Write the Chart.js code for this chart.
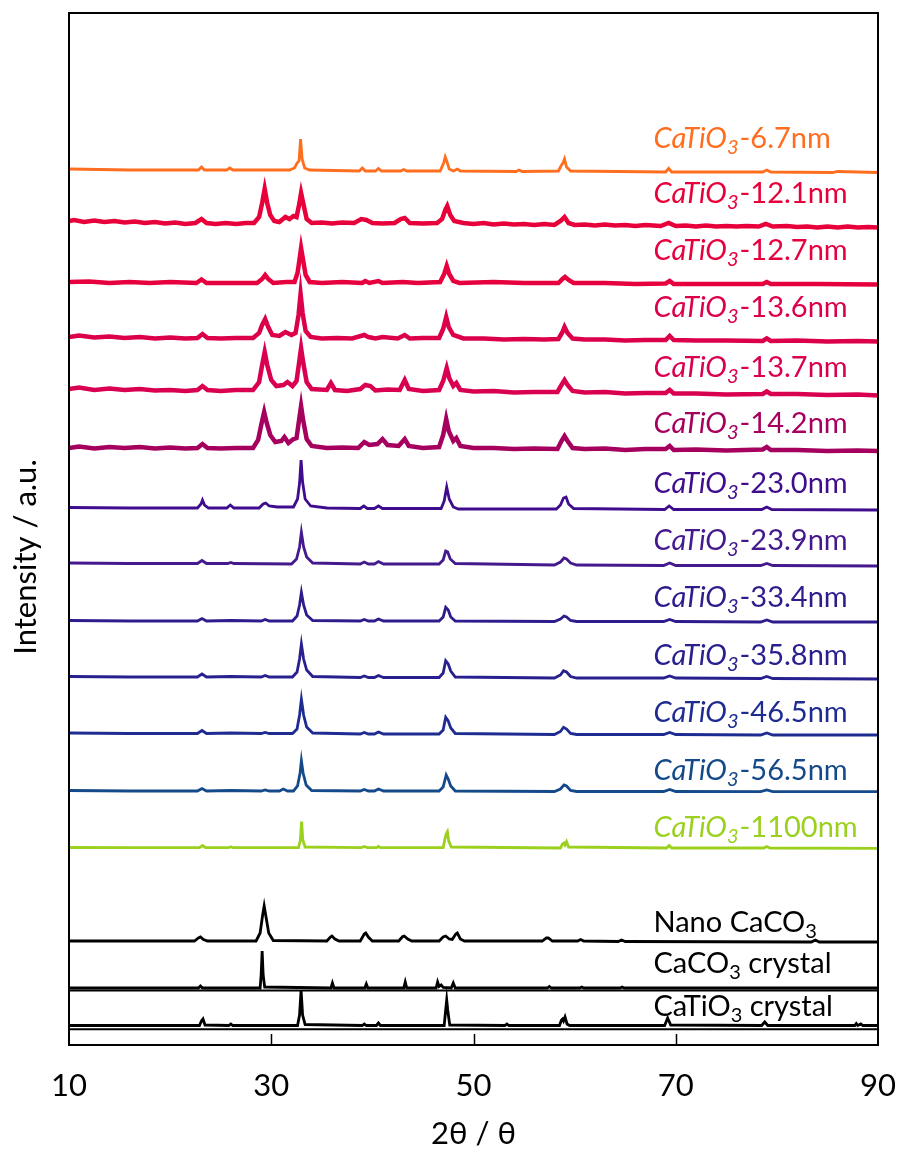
<!DOCTYPE html>
<html>
<head>
<meta charset="utf-8">
<script src="https://cdn.jsdelivr.net/npm/chart.js@4.4.0/dist/chart.umd.min.js"></script>
<style>
  html, body { margin: 0; padding: 0; background: #fff; }
  #xrd { display: block; }
</style>
</head>
<body>
<canvas id="xrd" width="901" height="1155"></canvas>
<script>
// 2-theta range and axis ticks
const angleMin = 10;
const angleMax = 90;
const angleTicks = [10, 30, 50, 70, 90];
const innerTicks = [30, 50, 70];

// sample names (top to bottom), colours and label heights (a.u.)
const sizeLabels = ["6.7", "12.1", "12.7", "13.6", "13.7", "14.2", "23.0", "23.9", "33.4", "35.8", "46.5", "56.5", "1100"];
const sizeColors = ["#ff6d1f", "#e8003a", "#e6003e", "#dc004c", "#d90052", "#a6005f", "#3e0c8c", "#45198e", "#2e1c8c", "#28208f", "#1e2c92", "#154a8a", "#9bd11e"];
const labelLevels = [897, 842, 785, 728, 668, 612, 552, 495, 438, 380, 323, 265, 208];
const refLabels = ["Nano CaCO", "CaCO", "CaTiO"];
const refTails = ["", " crystal", " crystal"];
const refLevels = [113, 72, 29];
const labelAngle = 67.8;

// traces: [2theta, intensity (offset, a.u.)]
const trace6_7 = [[10,876],[13,875.5],[16,875],[20,875],[22.8,875],[23.1,878],[23.4,875],[25.6,875],[25.9,877],[26.2,875],[31.8,875],[32.3,877],[32.55,882],[32.75,884],[32.9,906],[33.05,886],[33.3,877],[33.8,875],[38.7,874],[39.0,877],[39.3,874],[40.3,874],[40.6,876.5],[40.9,874],[42.8,874],[43.1,875.5],[43.4,874],[46.7,874],[47.05,882],[47.2,888],[47.35,884],[47.6,876],[48.0,874],[48.4,876],[48.7,874],[54.2,873.5],[54.5,875],[54.8,873.5],[58.4,874],[58.7,880],[58.85,882],[59.0,886],[59.2,878],[59.6,874],[69.0,873],[69.3,876.5],[69.6,873],[78.6,873],[79.0,875],[79.4,873],[85.5,872.5],[86,873.5],[90,872.5]];
const trace12_1 = [[10,824],[10.5,825],[11.5,823],[12.5,824.5],[13.5,823],[14.5,824],[15.5,822.5],[16.5,823.5],[17.5,822],[18.5,823],[19.5,821.5],[20.5,822.5],[21.5,821],[22.5,822],[23.1,826],[23.6,822],[24.5,821],[25.5,822],[26.5,821],[27.5,822],[28.3,822],[28.8,828],[29.1,842],[29.35,856],[29.6,842],[29.9,830],[30.3,824],[30.8,823],[31.4,828],[31.8,826],[32.2,829],[32.5,828],[32.75,840],[32.95,852],[33.2,840],[33.5,826],[34.0,822],[35,822.5],[36,821.5],[37,822.5],[38.2,822],[38.9,826],[39.4,825],[40,822],[41,821.5],[42.2,822],[42.8,826],[43.2,827],[43.7,822],[45,821.5],[46.4,822],[46.9,826],[47.2,835],[47.4,839],[47.7,830],[48.1,824],[49,822],[50,821],[51,822],[52,820.5],[53,821.5],[54,820.5],[55,821],[56,820],[57,821],[58,820],[58.6,824],[59.0,828],[59.4,822],[60,820],[61,820.5],[62,819.5],[63,820.5],[64,819.5],[65,820],[66,819],[67,820],[68.5,819],[69.3,822],[70,819],[71,819.5],[72,818.5],[73,819.5],[74,818.5],[75,819],[76,818.5],[77,819],[78.2,818.5],[78.9,821],[79.6,818.5],[81,819],[82,818],[83,818.5],[84,817.5],[85,818.5],[86,817.5],[87,818.5],[88,817.5],[89,818],[90,817.5]];
const trace12_7 = [[10,763],[12,763.5],[14,762],[16,763],[18,762],[20,763],[22.6,762],[23.1,765.5],[23.6,762],[26,762],[28.6,762],[29.1,766],[29.4,770],[29.7,766],[30.2,762],[31.5,763],[32.3,763],[32.6,772],[32.8,786],[32.95,797],[33.15,785],[33.4,770],[33.8,763],[35,762],[37,763],[39,762],[39.3,764],[39.7,762],[40.6,764],[41,762],[43,763],[44.5,762],[46.7,763],[47.1,771],[47.35,779],[47.6,771],[48,764],[48.6,762],[52,763],[55,762],[58.4,762],[58.8,766],[59.05,768],[59.4,765],[59.9,762],[63,762],[66,761],[69,761.5],[69.4,764],[69.8,761],[75,761],[78.6,761],[79,763],[79.4,761],[84,761],[90,760.5]];
const trace13_6 = [[10,708],[11,709.5],[12.5,707.5],[14,708.5],[15.5,707],[17,708],[18.5,706.5],[20,707.5],[21.5,706.5],[22.7,707],[23.2,711],[23.7,707],[25,706.5],[26.5,707],[28.2,707],[28.8,712],[29.1,720],[29.4,726],[29.7,718],[30.1,710],[30.8,709],[31.4,713],[32,710],[32.4,712],[32.7,730],[32.9,751],[33.1,732],[33.4,714],[33.9,708],[35,706.5],[36.5,707],[38,706.5],[39.2,710],[39.6,708],[40.3,706.5],[41,708],[42.5,706.5],[43.2,710],[43.7,706.5],[45,707],[46.6,707],[47.0,716],[47.3,728],[47.55,718],[48,710],[49,706.5],[51,706.5],[53,705.5],[55,706],[57,705.5],[58.4,706],[58.8,713],[59.0,718],[59.3,712],[59.8,706.5],[61,705.5],[63,705.5],[65,704.5],[67,705],[69,705],[69.4,709],[69.8,705],[72,704.5],[75,704.5],[78.6,704],[79,706.5],[79.4,704],[82,704.5],[85,703.5],[88,704],[90,703.5]];
const trace13_7 = [[10,656],[11,657.5],[12.5,655],[14,656.5],[15.5,655],[17,656],[18.5,654.5],[20,655],[21.5,654],[22.7,655],[23.2,659],[23.7,655],[25,654],[26.5,655],[28.2,655],[28.8,663],[29.1,680],[29.35,693],[29.6,680],[30,665],[30.5,659],[31.2,660],[31.6,663],[32.1,659],[32.5,664],[32.75,682],[32.95,697],[33.15,683],[33.5,663],[34,656],[35.5,655],[35.9,662],[36.3,655],[37.5,654],[38.8,656],[39.3,660],[39.8,659],[40.3,654.5],[41.5,655.5],[42.7,655],[43.2,665],[43.6,656],[45,654],[46.6,655],[47.0,664],[47.35,677],[47.6,667],[48.0,659],[48.3,662],[48.7,655],[50,653.5],[52,654],[54,652.5],[56,653],[58.3,653],[58.7,660],[59.0,665],[59.3,660],[59.8,654],[61,652.5],[63,653],[65,651.5],[67,652],[69,652],[69.4,655],[69.8,651.5],[72,651.5],[75,650.5],[78.6,651],[79,653.5],[79.4,651],[82,651],[85,650],[88,650.5],[90,649.5]];
const trace14_2 = [[10,597],[11,598.5],[12.5,596.5],[14,598],[15.5,597],[17,598],[18.5,596.5],[20,597.5],[21.5,596.5],[22.7,597],[23.2,601],[23.7,597],[25,596.5],[26.5,597],[28.2,597],[28.7,605],[29.05,622],[29.3,633],[29.55,622],[29.9,610],[30.4,603],[31.0,604],[31.3,608],[31.7,602],[32.2,606],[32.5,607],[32.75,625],[32.95,639],[33.15,625],[33.5,606],[34,599],[35.5,597],[37,597.5],[38.6,597],[39.2,603],[39.7,600],[40.5,601],[41,606],[41.5,600],[42.6,599],[43.2,606],[43.6,599],[45,597],[46.6,598],[47.0,610],[47.3,626],[47.55,614],[48.0,604],[48.3,607],[48.7,599],[50,597],[52,597],[54,596],[56,596.5],[58.3,596],[58.7,604],[59.0,609],[59.3,604],[59.8,597],[61,596],[63,596.5],[65,595],[67,596],[69,596],[69.4,599],[69.8,595],[72,595.5],[75,594.5],[78.6,595.5],[79,598],[79.4,595],[82,595],[85,594],[88,594.5],[90,594]];
const trace23_0 = [[10,537.5],[16,537],[22.7,537],[23.05,541],[23.2,545],[23.4,540],[23.8,537],[25.6,537],[25.95,540],[26.3,537],[28.8,537],[29.2,541],[29.45,542],[29.8,539],[30.6,538],[32.2,538],[32.6,546],[32.8,562],[32.95,585],[33.1,563],[33.35,546],[33.9,539],[35.5,537],[38.8,536.5],[39.15,539],[39.5,536.5],[40.2,536.5],[40.6,539],[41.0,536.5],[46.8,536.5],[47.1,544],[47.35,558],[47.6,546],[48.0,538],[48.5,536],[58.2,536],[58.6,540],[58.9,547],[59.15,548],[59.4,541],[59.9,536.5],[68.9,535.5],[69.35,539],[69.8,535.5],[78.5,535.5],[79,538],[79.5,535.5],[90,535]];
const trace23_9 = [[10,482],[16,481.5],[22.7,481.5],[23.15,484.5],[23.6,481.5],[25.7,481.5],[26,482.5],[26.3,481.5],[32.0,481],[32.5,486],[32.8,498],[32.98,512.7],[33.2,498],[33.5,488],[34.1,482],[38.8,481],[39.2,483],[39.6,481],[40.2,481],[40.6,483.5],[41.1,481],[46.6,481],[47.0,485],[47.25,494],[47.45,493],[47.7,486],[48.2,481.5],[58.0,480],[58.6,483],[58.95,487],[59.2,486],[59.6,482],[60.2,480],[68.8,479.5],[69.4,482],[70.0,479.5],[78.4,479.5],[79,481.5],[79.6,479.5],[90,479]];
const trace33_4 = [[10,424.5],[16,424],[22.7,424],[23.15,426.5],[23.6,424],[26,424.5],[29.0,424],[29.4,425.5],[29.8,424],[32.1,424],[32.55,429],[32.8,440],[32.98,452.7],[33.2,440],[33.5,430],[34.1,424.5],[38.8,424],[39.2,425.5],[39.6,424],[40.2,424],[40.6,426],[41.1,424],[46.6,424],[47.0,428],[47.25,437.7],[47.5,435],[47.75,428],[48.2,424],[58.0,423.5],[58.6,426],[58.95,429],[59.2,428],[59.6,424.5],[60.2,423.5],[68.8,423.5],[69.4,425.5],[70.0,423.5],[78.4,423],[79,425],[79.6,423],[90,423]];
const trace35_8 = [[10,368.5],[16,368],[22.7,368],[23.15,371],[23.6,368],[26,368.5],[29.0,368],[29.4,369.5],[29.8,368],[32.1,368],[32.55,373],[32.8,386],[32.98,401],[33.2,386],[33.5,375],[34.1,368.5],[38.8,367.5],[39.2,369],[39.6,367.5],[40.2,367.5],[40.6,369.5],[41.1,367.5],[46.6,367.5],[47.0,372],[47.25,384.3],[47.5,381],[47.75,374],[48.2,368],[58.0,367],[58.6,370],[58.9,374.3],[59.2,373],[59.6,368.5],[60.2,367],[68.8,367],[69.4,369],[70.0,367],[78.4,366.5],[79,368.5],[79.6,366.5],[90,366]];
const trace46_5 = [[10,312],[16,311.5],[22.7,311.5],[23.15,314.5],[23.6,311.5],[26,312],[29.0,311.5],[29.4,312.5],[29.8,311.5],[32.1,311.5],[32.55,316],[32.8,330],[32.98,345.7],[33.2,330],[33.5,318],[34.1,312],[38.8,311],[39.2,312.5],[39.6,311],[40.2,311],[40.6,313],[41.1,311],[46.6,311],[47.0,315],[47.25,327.7],[47.5,324],[47.75,317],[48.2,311.5],[58.0,310.5],[58.6,313.5],[58.9,317.7],[59.2,316],[59.6,311.5],[60.2,310.5],[68.8,310.5],[69.4,312.5],[70.0,310.5],[78.4,310],[79,312],[79.6,310],[90,310]];
const trace56_5 = [[10,254.5],[16,254],[22.7,254],[23.15,256.5],[23.6,254],[26,254.5],[29.0,254],[29.4,255],[29.8,254],[30.8,254],[31.2,256],[31.6,254],[32.2,254],[32.6,259],[32.85,272],[32.98,284.3],[33.15,272],[33.45,260],[34.0,254.5],[38.8,254],[39.2,255.5],[39.6,254],[40.2,254],[40.6,256],[41.1,254],[46.6,254],[47.0,258],[47.3,270],[47.5,266],[47.75,259],[48.2,254],[58.0,253.5],[58.6,256],[58.95,260],[59.2,259],[59.6,254.5],[60.2,253.5],[68.8,253.5],[69.4,255.5],[70.0,253.5],[78.4,253.3],[79,255],[79.6,253.3],[90,253.3]];
const trace1100 = [[10,197.5],[16,197.3],[22.9,197.3],[23.2,199.5],[23.5,197.3],[25.8,197.3],[26,198.2],[26.2,197.3],[32.7,197.3],[32.88,205],[33.0,223.3],[33.12,205],[33.35,198],[38.9,197.3],[39.2,198.5],[39.5,197.3],[40.4,197.3],[40.6,198.5],[40.8,197.3],[47.0,197.5],[47.2,207],[47.3,211],[47.42,213.3],[47.55,204],[47.8,198],[58.6,197],[58.8,201],[58.95,202],[59.05,200],[59.2,203.3],[59.4,198],[69.1,197],[69.35,199.5],[69.6,197],[78.7,197],[79,198.5],[79.3,197],[90,196.7]];
const traceNanoCaCO3 = [[10,104],[22.4,104],[22.8,107],[23.0,108],[23.3,105.5],[23.7,104],[28.5,104],[28.9,112],[29.15,130],[29.3,139],[29.45,130],[29.75,112],[30.2,104.5],[35.5,104],[35.85,108],[36.0,109],[36.3,106],[36.7,104],[38.8,104],[39.2,111],[39.35,112],[39.6,108],[40,104],[42.6,104],[43.0,108.5],[43.15,109],[43.5,106],[43.9,104],[46.6,104],[47.0,108],[47.25,109],[47.6,106],[47.9,105.5],[48.25,111],[48.4,112],[48.7,106],[49.1,104],[56.8,104],[57.2,107],[57.4,107],[57.8,104],[60.3,104],[60.6,105.5],[60.9,104],[64.3,103.5],[64.65,105],[65,103.5],[83.4,103],[83.8,105],[84.2,103],[90,103]];
const traceCaCO3 = [[10,57],[22.8,57],[23.0,59],[23.2,57],[28.9,57],[29.0,70],[29.1,94],[29.2,70],[29.35,58],[35.9,57],[36.05,62],[36.2,57],[39.25,57],[39.4,61],[39.55,57],[43.1,57],[43.25,63],[43.4,57],[46.3,57],[46.45,63],[46.6,58.5],[46.8,60],[47.0,57.5],[47.8,57],[48.0,62],[48.2,57],[57.3,57],[57.5,58.5],[57.7,57],[60.5,57],[60.7,58],[60.9,57],[64.5,57],[64.7,58],[64.9,57],[90,57]];
const traceCaTiO3 = [[10,19.5],[22.9,19.5],[23.1,24],[23.25,26],[23.45,20],[25.8,19.5],[26.0,21],[26.2,19.5],[32.6,19.5],[32.8,30],[32.95,55],[33.1,30],[33.35,20.5],[39.0,19.5],[39.2,21],[39.4,19.5],[40.4,19.5],[40.6,22],[40.8,19.5],[47.1,19.5],[47.25,35],[47.35,45],[47.45,35],[47.65,20],[53.1,19.5],[53.3,21],[53.5,19.5],[58.5,19.5],[58.7,25],[58.8,26],[58.9,24],[59.05,28],[59.25,21],[59.5,19.5],[68.9,19.5],[69.2,27],[69.5,20],[78.5,19.5],[78.8,23],[79.1,19.5],[87.7,19.5],[87.85,21.5],[88.0,19.5],[88.3,21],[88.5,19.5],[90,19.5]];
// thin rules under the two crystal patterns
const dividerLevels = [54.5, 15.7];

const sizeTraces = [trace6_7, trace12_1, trace12_7, trace13_6, trace13_7, trace14_2, trace23_0, trace23_9, trace33_4, trace35_8, trace46_5, trace56_5, trace1100];
const noisy = [false, true, true, true, true, true, false, false, false, false, false, false, false];
const refTraces = [traceNanoCaCO3, traceCaCO3, traceCaTiO3];

const toPoints = (arr) => arr.map(p => ({ x: p[0], y: p[1] }));

const datasets = [];
sizeTraces.forEach((t, i) => {
    datasets.push({
        label: "CaTiO3-" + sizeLabels[i] + "nm",
        data: toPoints(t),
        borderColor: sizeColors[i],
        borderWidth: noisy[i] ? 4.5 : 2.8,
        pointRadius: 0,
        tension: 0,
    });
});
refTraces.forEach((t, i) => {
    datasets.push({
        label: refLabels[i] + "3" + refTails[i],
        data: toPoints(t),
        borderColor: "#000",
        borderWidth: 2.8,
        pointRadius: 0,
        tension: 0,
    });
});
dividerLevels.forEach((lv) => {
    datasets.push({
        label: "divider",
        data: [{ x: angleMin, y: lv }, { x: angleMax, y: lv }],
        borderColor: "#000",
        borderWidth: 2,
        pointRadius: 0,
    });
});

const FONT = "Lato, 'Open Sans', sans-serif";

// frame, inward ticks, sample labels and y title
const decor = {
    id: "decor",
    afterDraw(chart) {
        const ctx = chart.ctx;
        const a = chart.chartArea;
        const x = chart.scales.x;
        const y = chart.scales.y;
        ctx.save();
        ctx.strokeStyle = "#000";
        ctx.lineWidth = 2;
        ctx.strokeRect(a.left, a.top, a.right - a.left, a.bottom - a.top);
        ctx.beginPath();
        innerTicks.forEach((v) => {
            const px = Math.round(x.getPixelForValue(v)) + 0.5;
            ctx.moveTo(px, a.bottom);
            ctx.lineTo(px, a.bottom - 11);
        });
        ctx.lineWidth = 1.5;
        ctx.stroke();

        const size = 29;
        const sub = 20;
        ctx.textBaseline = "alphabetic";
        ctx.textAlign = "left";
        sizeLabels.forEach((s, i) => {
            let px = x.getPixelForValue(labelAngle);
            const py = y.getPixelForValue(labelLevels[i]);
            ctx.fillStyle = sizeColors[i];
            ctx.font = "italic " + size + "px " + FONT;
            ctx.fillText("CaTiO", px, py);
            px += ctx.measureText("CaTiO").width;
            ctx.font = "italic " + sub + "px " + FONT;
            ctx.fillText("3", px, py + 6);
            px += ctx.measureText("3").width + 1;
            ctx.font = size + "px " + FONT;
            ctx.fillText("-" + s + "nm", px, py);
        });
        refLabels.forEach((s, i) => {
            let px = x.getPixelForValue(labelAngle);
            const py = y.getPixelForValue(refLevels[i]);
            ctx.fillStyle = "#000";
            ctx.font = size + "px " + FONT;
            ctx.fillText(s, px, py);
            px += ctx.measureText(s).width;
            ctx.font = sub + "px " + FONT;
            ctx.fillText("3", px, py + 6);
            px += ctx.measureText("3").width;
            ctx.font = size + "px " + FONT;
            ctx.fillText(refTails[i], px, py);
        });

        ctx.translate(26, 557);
        ctx.rotate(-Math.PI / 2);
        ctx.textAlign = "center";
        ctx.textBaseline = "middle";
        ctx.fillStyle = "#000";
        ctx.font = "31px " + FONT;
        ctx.fillText("Intensity / a.u.", 0, 0);
        ctx.restore();
    },
};

new Chart(document.getElementById("xrd"), {
    type: "line",
    data: { datasets: datasets },
    options: {
        responsive: false,
        animation: false,
        layout: { padding: { left: 69, right: 23, top: 13, bottom: 0 } },
        plugins: { legend: { display: false }, tooltip: { enabled: false } },
        scales: {
            x: {
                type: "linear",
                min: angleMin,
                max: angleMax,
                afterFit: (s) => {
                    s.height = 110;
                    s.paddingLeft = 0;
                    s.paddingRight = 0;
                },
                afterBuildTicks: (s) => { s.ticks = angleTicks.map(v => ({ value: v })); },
                grid: { display: false, drawTicks: false },
                border: { display: false },
                ticks: { color: "#000", padding: 22, maxRotation: 0, autoSkip: false, font: { family: FONT, size: 31 } },
                title: { display: true, text: "2θ / θ", color: "#000", padding: { top: 0, bottom: 2 }, font: { family: FONT, size: 31 } },
            },
            y: {
                display: false,
                min: 0,
                max: 1032,
            },
        },
    },
    plugins: [decor],
});
</script>
</body>
</html>
